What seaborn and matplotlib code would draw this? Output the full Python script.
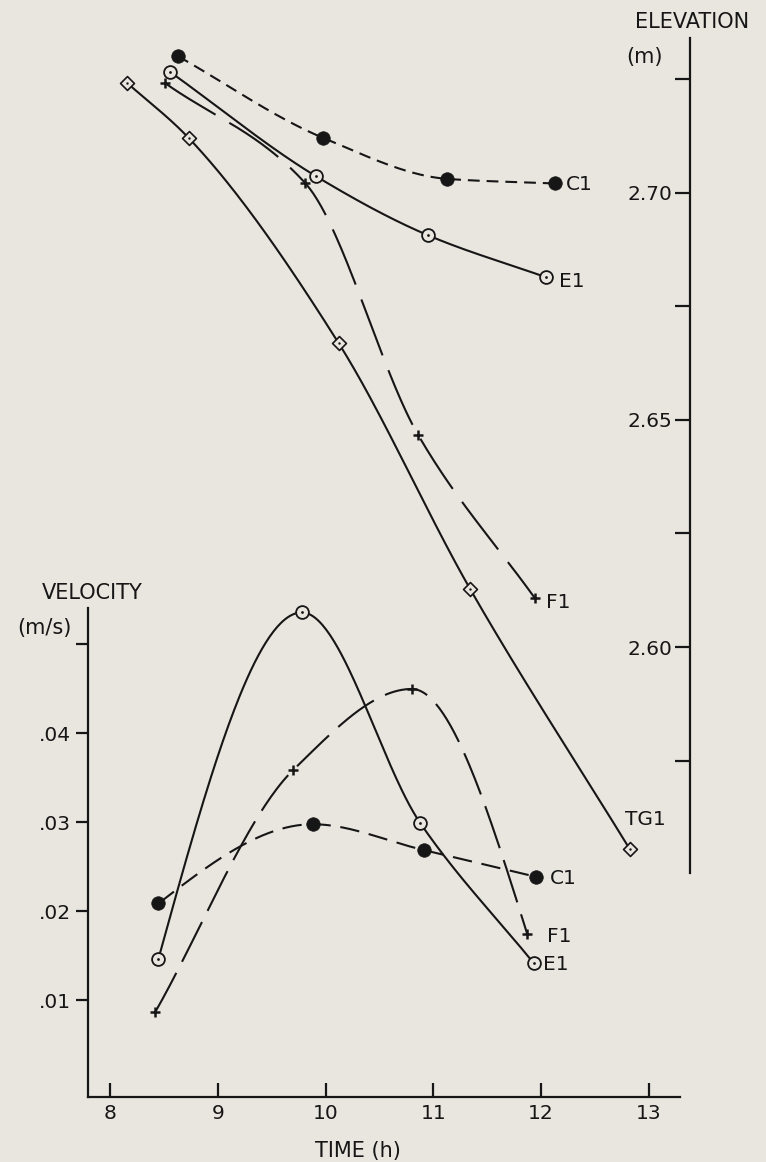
import numpy as np
import matplotlib
matplotlib.use("Agg")
import matplotlib.pyplot as plt
import seaborn as sns

# elevation (m) against time (h)
elev_c1_t = [8.63, 9.98, 11.13, 12.13]
elev_c1 = [2.730, 2.712, 2.703, 2.702]
elev_e1_t = [8.56, 9.91, 10.95, 12.04]
elev_e1 = [2.7265, 2.7036, 2.6906, 2.6814]
elev_f1_t = [8.51, 9.81, 10.86, 11.94]
elev_f1 = [2.7241, 2.7021, 2.6466, 2.6108]
elev_tg1_t = [8.16, 8.73, 10.12, 11.34, 12.82]
elev_tg1 = [2.7241, 2.712, 2.6669, 2.6128, 2.5556]

# velocity (m/s) against time (h)
vel_c1_t = [8.45, 9.88, 10.91, 11.95]
vel_c1 = [0.0209, 0.0298, 0.0269, 0.0239]
vel_e1_t = [8.45, 9.78, 10.88, 11.93]
vel_e1 = [0.0147, 0.0536, 0.0299, 0.0142]
vel_f1_t = [8.42, 9.70, 10.80, 11.87]
vel_f1 = [0.0087, 0.0359, 0.0450, 0.0175]

time_ticks = [8, 9, 10, 11, 12, 13]
vel_ticks = [0.01, 0.02, 0.03, 0.04, 0.05]
vel_tick_labels = ['.01', '.02', '.03', '.04', '']
elev_major = [2.60, 2.65, 2.70]
elev_major_labels = ['2.60', '2.65', '2.70']
elev_minor = [2.575, 2.625, 2.675, 2.725]

BG = '#e9e6e0'
INK = '#161616'
W, H = 766, 1162

sns.set_theme(style='ticks')
plt.rcParams['font.family'] = ['DejaVu Sans']
plt.rcParams['font.size'] = 14.5
plt.rcParams['lines.scale_dashes'] = False
plt.rcParams['text.color'] = INK


def smooth(x, y, n=200):
    # monotone cubic through the read points, only to draw the curves smoothly
    x = np.asarray(x, float)
    y = np.asarray(y, float)
    h = np.diff(x)
    d = np.diff(y) / h
    m = np.zeros_like(y)
    for k in range(1, len(x) - 1):
        if d[k - 1] * d[k] > 0:
            w1 = 2 * h[k] + h[k - 1]
            w2 = h[k] + 2 * h[k - 1]
            m[k] = (w1 + w2) / (w1 / d[k - 1] + w2 / d[k])
    # straight-ish ends, rounded when the next point is a peak
    m[0] = d[0] if d[0] * d[1] > 0 else 1.5 * d[0] - 0.5 * m[1]
    m[-1] = d[-1] if d[-1] * d[-2] > 0 else 1.5 * d[-1] - 0.5 * m[-2]
    xs = np.linspace(x[0], x[-1], n)
    i = np.clip(np.searchsorted(x, xs) - 1, 0, len(x) - 2)
    t = (xs - x[i]) / h[i]
    ys = ((2 * t**3 - 3 * t**2 + 1) * y[i] + (t**3 - 2 * t**2 + t) * h[i] * m[i]
          + (-2 * t**3 + 3 * t**2) * y[i + 1] + (t**3 - t**2) * h[i] * m[i + 1])
    return xs, ys


def curve(ax, t, v, ls):
    xs, ys = smooth(t, v)
    sns.lineplot(x=xs, y=ys, ax=ax, sort=False, estimator=None, color=INK,
                 lw=1.5, linestyle=ls, zorder=2, clip_on=False)


def marks(ax, t, v, kind):
    if kind == 'dot':
        sns.scatterplot(x=t, y=v, ax=ax, marker='o', s=95, color=INK,
                        edgecolor=INK, linewidth=0.5, zorder=4, clip_on=False)
    elif kind == 'ring':
        sns.scatterplot(x=t, y=v, ax=ax, marker='o', s=85, color=BG,
                        edgecolor=INK, linewidth=1.3, zorder=4, clip_on=False)
        sns.scatterplot(x=t, y=v, ax=ax, marker='o', s=4, color=INK,
                        linewidth=0, zorder=5, clip_on=False)
    elif kind == 'plus':
        sns.scatterplot(x=t, y=v, ax=ax, marker='+', s=60, color=INK,
                        linewidth=1.8, zorder=4, clip_on=False)
    elif kind == 'diamond':
        sns.scatterplot(x=t, y=v, ax=ax, marker='D', s=50, color=BG,
                        edgecolor=INK, linewidth=1.2, zorder=4, clip_on=False)
        sns.scatterplot(x=t, y=v, ax=ax, marker='o', s=3, color=INK,
                        linewidth=0, zorder=5, clip_on=False)


def tag(ax, text, t, v, dx, dy, ha='left'):
    ax.annotate(text, xy=(t, v), xytext=(dx, dy), textcoords='offset points',
                ha=ha, va='center', fontsize=14.5, color=INK, annotation_clip=False)


fig = plt.figure(figsize=(W / 100, H / 100), dpi=100, facecolor=BG)
ax_v = fig.add_axes([88 / W, (H - 1097) / H, (680 - 88) / W, (1097 - 608) / H])
ax_e = fig.add_axes([88 / W, (H - 873) / H, (690 - 88) / W, (873 - 38) / H])

# velocity panel
ax_v.set_facecolor('none')
ax_v.set_xlim(7.796, 13.288)
ax_v.set_ylim(-0.00085, 0.0541)
for s in ['top', 'right']:
    ax_v.spines[s].set_visible(False)
for s in ['left', 'bottom']:
    ax_v.spines[s].set_linewidth(1.6)
    ax_v.spines[s].set_color(INK)
ax_v.set_xticks(time_ticks, labels=[str(t) for t in time_ticks])
ax_v.set_yticks(vel_ticks, labels=vel_tick_labels)
ax_v.tick_params(axis='x', direction='in', length=10, width=1.6, pad=5,
                 labelsize=14.5, colors=INK)
ax_v.tick_params(axis='y', direction='out', length=9, width=1.6, pad=3,
                 labelsize=14.5, colors=INK)
ax_v.set_xlabel('')
ax_v.set_ylabel('')

curve(ax_v, vel_c1_t, vel_c1, (0, (14, 7)))
curve(ax_v, vel_e1_t, vel_e1, '-')
curve(ax_v, vel_f1_t, vel_f1, (0, (32, 9)))
marks(ax_v, vel_c1_t, vel_c1, 'dot')
marks(ax_v, vel_e1_t, vel_e1, 'ring')
marks(ax_v, vel_f1_t, vel_f1, 'plus')
tag(ax_v, 'C1', vel_c1_t[-1], vel_c1[-1], 10, -1)
tag(ax_v, 'F1', vel_f1_t[-1], vel_f1[-1], 14, -2)
tag(ax_v, 'E1', vel_e1_t[-1], vel_e1[-1], 7, -1)

# elevation panel, its axis line sits on the right
ax_e.set_facecolor('none')
ax_e.set_xlim(7.796, 13.380)
ax_e.set_ylim(2.5503, 2.7340)
for s in ['top', 'right', 'bottom']:
    ax_e.spines[s].set_visible(False)
ax_e.spines['left'].set_position(('axes', 1.0))
ax_e.spines['left'].set_linewidth(1.6)
ax_e.spines['left'].set_color(INK)
ax_e.set_xticks([])
ax_e.set_yticks(elev_major, labels=elev_major_labels)
ax_e.set_yticks(elev_minor, minor=True)
ax_e.tick_params(axis='y', which='both', direction='out', length=11, width=1.6,
                 pad=1.5, labelsize=14.5, colors=INK)
ax_e.set_xlabel('')
ax_e.set_ylabel('')

curve(ax_e, elev_c1_t, elev_c1, (0, (8.5, 5)))
curve(ax_e, elev_e1_t, elev_e1, '-')
curve(ax_e, elev_f1_t, elev_f1, (0, (43, 11.5)))
curve(ax_e, elev_tg1_t, elev_tg1, '-')
marks(ax_e, elev_c1_t, elev_c1, 'dot')
marks(ax_e, elev_e1_t, elev_e1, 'ring')
marks(ax_e, elev_f1_t, elev_f1, 'plus')
marks(ax_e, elev_tg1_t, elev_tg1, 'diamond')
tag(ax_e, 'C1', elev_c1_t[-1], elev_c1[-1], 8, -1)
tag(ax_e, 'E1', elev_e1_t[-1], elev_e1[-1], 10, -3)
tag(ax_e, 'F1', elev_f1_t[-1], elev_f1[-1], 8, -3)
tag(ax_e, 'TG1', elev_tg1_t[-1], elev_tg1[-1], 11, 21, ha='center')

# axis titles
fig.text(692 / W, 1 - 22 / H, 'ELEVATION', ha='center', va='center', fontsize=15)
fig.text(645 / W, 1 - 57 / H, '(m)', ha='center', va='center', fontsize=15)
fig.text(92 / W, 1 - 593 / H, 'VELOCITY', ha='center', va='center', fontsize=15)
fig.text(44 / W, 1 - 628 / H, '(m/s)', ha='center', va='center', fontsize=15)
fig.text(358 / W, 1 - 1151 / H, 'TIME (h)', ha='center', va='center', fontsize=15)

fig.savefig('out.png', dpi=100, facecolor=BG)
